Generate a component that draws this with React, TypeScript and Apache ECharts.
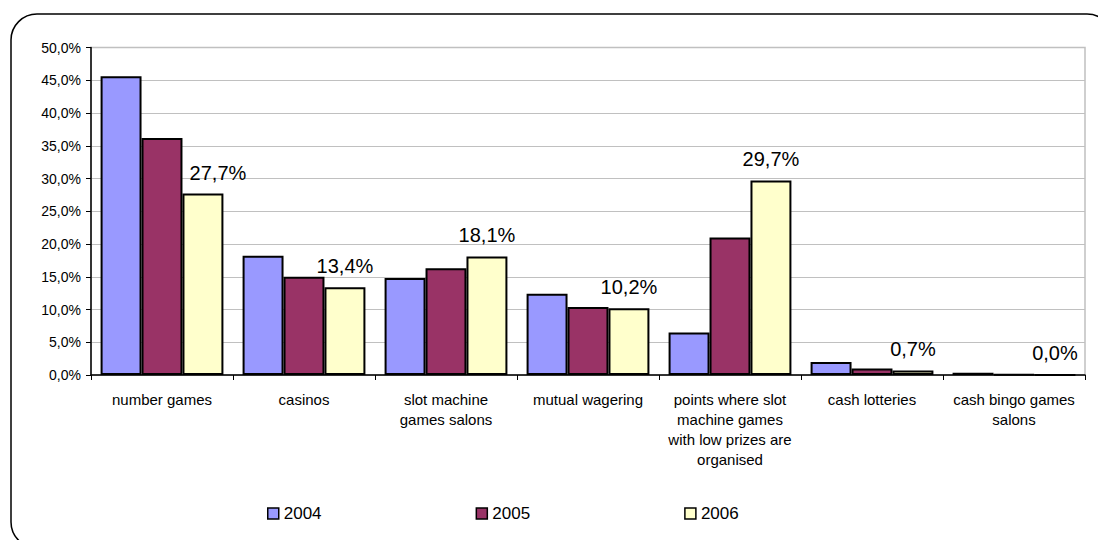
import React, { useEffect, useRef } from "react";
import * as echarts from "echarts";

const categories = [
  "number games",
  "casinos",
  "slot machine\ngames salons",
  "mutual wagering",
  "points where slot\nmachine games\nwith low prizes are\norganised",
  "cash lotteries",
  "cash bingo games\nsalons",
];

const years = ["2004", "2005", "2006"];

const values2004 = [45.6, 18.2, 14.8, 12.4, 6.5, 2.0, 0.35];
const values2005 = [36.2, 15.0, 16.3, 10.4, 21.0, 1.0, 0.1];
const values2006 = [27.7, 13.4, 18.1, 10.2, 29.7, 0.7, 0.0];

const yTicks = { min: 0, max: 50, interval: 5 };

const colors = ["#9999FF", "#993366", "#FFFFCC"];

const FONT = 'Arial, "Liberation Sans", sans-serif';

const pct = (v: number) => v.toFixed(1).replace(".", ",") + "%";

export default function App() {
  const ref = useRef<HTMLDivElement>(null);

  useEffect(() => {
    if (!ref.current) return;
    const chart = echarts.init(ref.current, undefined, { renderer: "svg" });

    const barSeries = (name: string, data: number[], color: string, labelled: boolean) => ({
      name,
      type: "bar",
      data: labelled
        ? data.map((v, i) =>
            i === 0 ? { value: v, label: { offset: [15, 0] } } : v
          )
        : data,
      barGap: "0%",
      barCategoryGap: "13.5%",
      itemStyle: { color, borderColor: "#000", borderWidth: 2 },
      label: labelled
        ? {
            show: true,
            position: "top",
            distance: 11,
            fontSize: 20,
            fontFamily: FONT,
            color: "#000",
            formatter: (p: any) => pct(p.value),
          }
        : { show: false },
    });

    chart.setOption({
      animation: false,
      backgroundColor: "#fff",
      textStyle: { fontFamily: FONT },
      graphic: [
        {
          type: "rect",
          shape: { x: 11, y: 14, width: 1102, height: 534, r: 26 },
          style: { fill: "none", stroke: "#000", lineWidth: 1.5 },
          silent: true,
          z: -1,
        },
      ],
      grid: {
        left: 91,
        right: 13,
        top: 47.5,
        bottom: 165,
        show: true,
        borderColor: "#c0c0c0",
        borderWidth: 1.5,
        backgroundColor: "transparent",
      },
      legend: {
        data: years,
        left: 267,
        top: 505,
        padding: 0,
        itemWidth: 11,
        itemHeight: 11,
        itemGap: 154,
        icon: "rect",
        textStyle: { fontSize: 17, fontFamily: FONT, color: "#000" },
        itemStyle: { borderColor: "#000", borderWidth: 1.5 },
      },
      xAxis: {
        type: "category",
        data: categories,
        axisLine: { lineStyle: { color: "#000", width: 1.5 } },
        axisTick: { show: true, alignWithLabel: false, interval: 0, length: 5, lineStyle: { color: "#000" } },
        axisLabel: {
          interval: 0,
          margin: 14,
          fontSize: 15,
          lineHeight: 20,
          color: "#000",
          fontFamily: FONT,
        },
      },
      yAxis: {
        type: "value",
        min: yTicks.min,
        max: yTicks.max,
        interval: yTicks.interval,
        axisLine: { show: true, lineStyle: { color: "#000", width: 1.5 } },
        axisTick: { show: true, length: 5, lineStyle: { color: "#000" } },
        splitLine: { lineStyle: { color: "#c0c0c0", width: 1 } },
        axisLabel: {
          fontSize: 14,
          color: "#000",
          fontFamily: FONT,
          margin: 10,
          formatter: (v: number) => pct(v),
        },
      },
      series: [
        barSeries(years[0], values2004, colors[0], false),
        barSeries(years[1], values2005, colors[1], false),
        barSeries(years[2], values2006, colors[2], true),
      ],
    });

    return () => chart.dispose();
  }, []);

  return (
    <div
      ref={ref}
      style={{ position: "fixed", left: 0, top: 0, width: 1098, height: 540 }}
    />
  );
}
